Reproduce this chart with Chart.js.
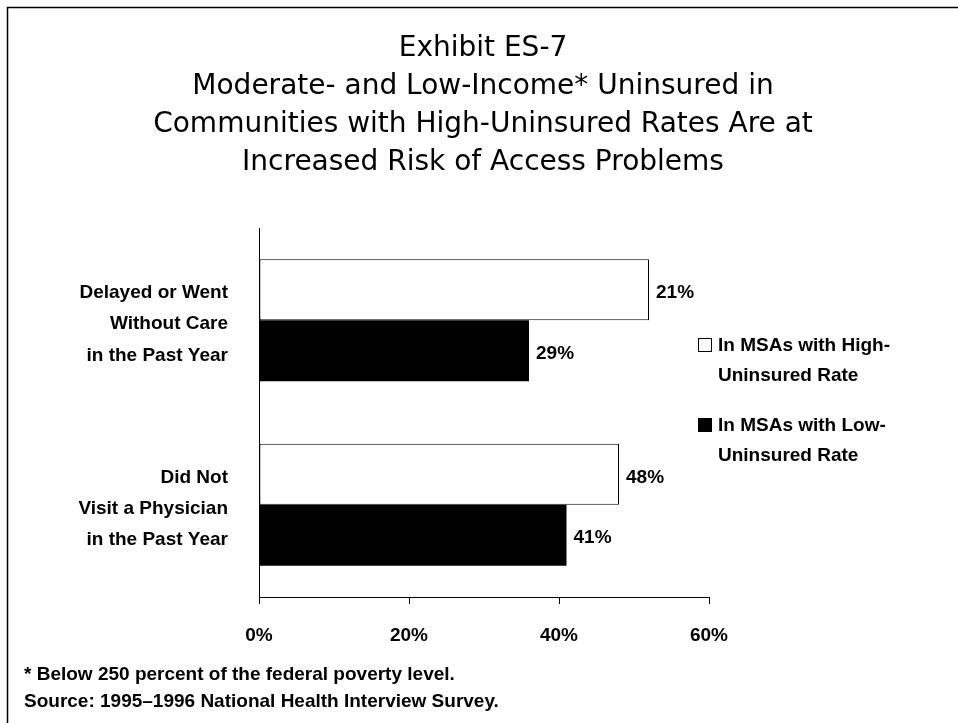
<!DOCTYPE html>
<html>
<head>
<meta charset="utf-8">
<script src="https://cdn.jsdelivr.net/npm/chart.js@4.4.1/dist/chart.umd.min.js"></script>
<style>
  html, body { margin: 0; padding: 0; background: #fff; }
  #wrap { width: 958px; height: 723px; }
</style>
</head>
<body>
<div id="wrap"><canvas id="exhibit"></canvas></div>
<script>
// === Datos ===
const categorias = [
  ['Delayed or Went', 'Without Care', 'in the Past Year'],
  ['Did Not', 'Visit a Physician', 'in the Past Year']
];
const serieAlta = [52, 48];          // bar lengths as drawn
const serieBaja = [36, 41];
const etiquetasAlta = ['21%', '48%']; // printed value labels
const etiquetasBaja = ['29%', '41%'];
const nombresSeries = [['In MSAs with High-', 'Uninsured Rate'], ['In MSAs with Low-', 'Uninsured Rate']];
const ticksX = [0, 20, 40, 60];
const titulo = [
  'Exhibit ES-7',
  'Moderate- and Low-Income* Uninsured in',
  'Communities with High-Uninsured Rates Are at',
  'Increased Risk of Access Problems'
];
const notas = [
  '* Below 250 percent of the federal poverty level.',
  'Source: 1995\u20131996 National Health Interview Survey.'
];

const fuente = 'Arial, "Liberation Sans", sans-serif';

// === Decoración: marco, título, leyenda, notas y etiquetas ===
const decoracion = {
  id: 'decoracion',
  beforeDraw(chart) {
    const c = chart.ctx;
    c.save();
    c.fillStyle = '#fff';
    c.fillRect(0, 0, chart.width, chart.height);
    c.restore();
  },
  afterDraw(chart) {
    const c = chart.ctx;
    c.save();
    c.strokeStyle = '#000';
    c.lineWidth = 1.5;
    c.strokeRect(7.5, 7.5, 980, 740);

    c.fillStyle = '#000';
    c.textAlign = 'center';
    c.textBaseline = 'middle';
    c.font = '28px "DejaVu Sans", Verdana, sans-serif';
    titulo.forEach((t, i) => c.fillText(t, 483, 49 + i * 38));

    // leyenda
    c.textAlign = 'left';
    c.font = 'bold 19px ' + fuente;
    const cajas = [{ y: 345, fill: '#fff' }, { y: 425, fill: '#000' }];
    cajas.forEach((b, i) => {
      c.fillStyle = b.fill;
      c.fillRect(698, b.y - 7, 14, 14);
      c.strokeStyle = '#000';
      c.lineWidth = 1;
      c.strokeRect(698.5, b.y - 6.5, 13, 13);
      c.fillStyle = '#000';
      nombresSeries[i].forEach((t, j) => c.fillText(t, 718, b.y + 1 + j * 30));
    });

    // notas
    c.font = 'bold 19px ' + fuente;
    notas.forEach((t, i) => c.fillText(t, 24, 675 + i * 27));

    // etiquetas de valor
    c.font = 'bold 19px ' + fuente;
    [etiquetasAlta, etiquetasBaja].forEach((etq, d) => {
      chart.getDatasetMeta(d).data.forEach((el, k) => {
        c.fillText(etq[k], el.x + 7, el.y + 3);
      });
    });
    c.restore();
  }
};

new Chart(document.getElementById('exhibit'), {
  type: 'bar',
  data: {
    labels: categorias,
    datasets: [{
      label: nombresSeries[0].join(' '),
      data: serieAlta,
      backgroundColor: '#fff',
      borderColor: '#000',
      borderWidth: 1,
      borderSkipped: false
    }, {
      label: nombresSeries[1].join(' '),
      data: serieBaja,
      backgroundColor: '#000',
      borderColor: '#000',
      borderWidth: 0
    }]
  },
  options: {
    indexAxis: 'y',
    responsive: true,
    maintainAspectRatio: false,
    animation: false,
    layout: { padding: { top: 228, left: 0, right: 249, bottom: 0 } },
    datasets: { bar: { categoryPercentage: 0.66, barPercentage: 1 } },
    plugins: {
      legend: { display: false },
      title: { display: false },
      tooltip: { enabled: false }
    },
    scales: {
      x: {
        min: 0,
        max: 60,
        afterFit: s => { s.height = 126; },
        afterBuildTicks: s => { s.ticks = ticksX.map(v => ({ value: v })); },
        grid: { drawOnChartArea: false, tickLength: 7, color: '#000' },
        border: { color: '#000', width: 1 },
        ticks: {
          padding: 20,
          color: '#000',
          font: { family: fuente, size: 19, weight: 'bold' },
          callback: v => v + '%'
        }
      },
      y: {
        afterFit: s => { s.width = 259; },
        grid: { display: false },
        border: { color: '#000', width: 1 },
        ticks: {
          padding: 23,
          labelOffset: 4,
          color: '#000',
          font: { family: fuente, size: 19, weight: 'bold', lineHeight: 1.64 }
        }
      }
    }
  },
  plugins: [decoracion]
});
</script>
</body>
</html>
